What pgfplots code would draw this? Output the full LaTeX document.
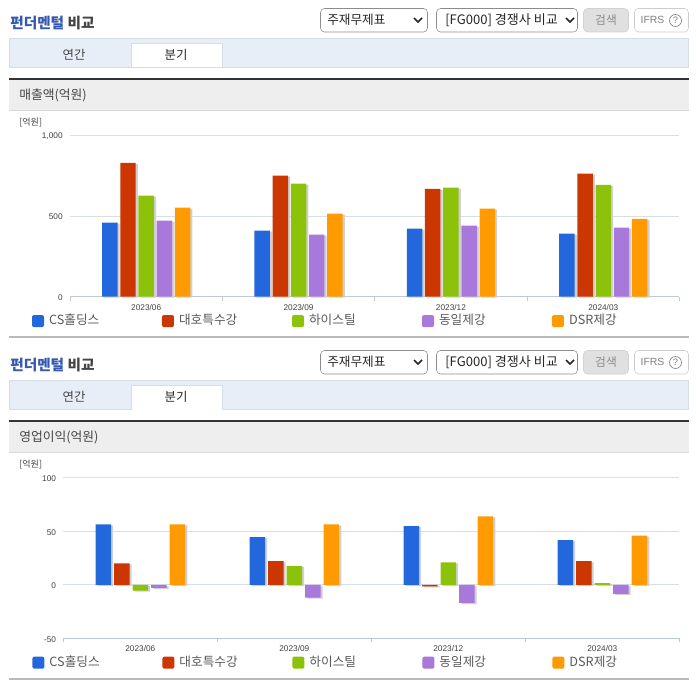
\documentclass[border=0pt]{standalone}
\usepackage{fontspec}
\usepackage{pgfplots}
\usepackage{pgfplotstable}
\pgfplotsset{compat=1.18}
\setmainfont{Noto Sans CJK KR}
\newfontfamily\lat{Liberation Sans}
\definecolor{cblue}{HTML}{2268DC}
\definecolor{cred}{HTML}{CC3600}
\definecolor{cgreen}{HTML}{8CC30A}
\definecolor{cpurple}{HTML}{A878DA}
\definecolor{corange}{HTML}{FF9A00}
\definecolor{tabbg}{HTML}{E8EEF8}
\definecolor{tabline}{HTML}{D5DDE8}
\definecolor{band}{HTML}{EEEEEE}
\definecolor{gridc}{HTML}{D8DEE6}
\definecolor{axisc}{HTML}{BCCADC}
\definecolor{txt}{HTML}{444444}
\definecolor{shad}{HTML}{D0D0D4}
\definecolor{headblue}{HTML}{3558B0}
\newcommand{\fsz}[1]{\fontsize{#1}{#1}\selectfont}
\pgfplotstableread{
x a b c d e
0 460 830 627 472 553
1 410 752 702 385 516
2 422 669 677 441 547
3 391 764 694 429 483
}\tsales
\pgfplotstableread{
x a b c d e
0 56.4 20 -5.5 -3 56.4
1 44.5 22 17.4 -12 56.4
2 54.8 -1.5 21 -17 64
3 41.7 22 1.5 -8.5 46
}\tprofit
% #1 y offset, #2 title
\newcommand{\panel}[2]{%
 \begin{scope}[shift={(0,#1)}]
 \node[anchor=west,inner sep=0pt,font=\fsz{11pt}\bfseries] at (10,23) {\textcolor{headblue}{펀더멘털} \textcolor{txt}{비교}};
 \draw[rounded corners=3pt,draw=black!45,fill=white] (320.5,8.5) rectangle (427.5,32);
 \node[anchor=west,inner sep=0pt,font=\fsz{9.5pt},text=black!85] at (327,20) {주재무제표};
 \draw[line width=1.3pt,black!85] (414,18) -- (418,22) -- (422,18);
 \draw[rounded corners=3pt,draw=black!45,fill=white] (436.5,8.5) rectangle (577.5,32);
 \node[anchor=west,inner sep=0pt,font=\fsz{9.8pt},text=black!85] at (445,20) {[FG000] 경쟁사 비교};
 \draw[line width=1.3pt,black!85] (566,18) -- (570,22) -- (574,18);
 \draw[rounded corners=3pt,draw=black!18,fill=black!12] (583.5,8.5) rectangle (628.5,32);
 \node[inner sep=0pt,font=\fsz{8.8pt},text=black!45] at (606,20) {검색};
 \draw[rounded corners=3pt,draw=black!20,fill=white] (634.5,8.5) rectangle (688.5,32);
 \node[inner sep=0pt,font=\lat\fsz{7.8pt},text=black!50] at (652.5,20) {IFRS};
 \draw[black!50,line width=0.5pt] (675.5,20.5) circle (6);
 \node[inner sep=0pt,font=\lat\fsz{7pt},text=black!50] at (675.5,20.5) {?};
 \fill[tabbg,draw=tabline] (9.5,38.5) rectangle (688.5,67.5);
 \fill[white,draw=tabline] (131.5,67.5) -- (131.5,43.5) -- (222.5,43.5) -- (222.5,67.5);
 \node[inner sep=0pt,font=\fsz{9.3pt},text=txt] at (74,54.5) {연간};
 \node[inner sep=0pt,font=\fsz{9.3pt},text=black!85] at (176,54.5) {분기};
 \fill[band] (9,80) rectangle (689,110);
 \draw[black!15] (9,110.5) -- (689,110.5);
 \fill[black!80] (9,78.2) rectangle (689,80.2);
 \node[anchor=west,inner sep=0pt,font=\fsz{9.6pt},text=txt] at (19,95.5) {#2};
 \node[anchor=west,inner sep=0pt,font=\fsz{6.8pt},text=txt] at (19,122.5) {[억원]};
 \fill[black!27] (9,335.7) rectangle (689,337.7);
 \end{scope}}
\pgfplotsset{shadowbar/.style={ybar,forget plot,draw=none,fill=shad,bar width=11.6pt,xshift=1.6pt,yshift=-0.8pt},
 mainbar/.style={ybar,draw=none,bar width=11.6pt}}
\newcommand{\bars}[2]{%
 \addplot[shadowbar,bar shift={-2*#2}] table[x=x,y=a]{#1};
 \addplot[shadowbar,bar shift={-1*#2}] table[x=x,y=b]{#1};
 \addplot[shadowbar,bar shift=0pt] table[x=x,y=c]{#1};
 \addplot[shadowbar,bar shift={1*#2}] table[x=x,y=d]{#1};
 \addplot[shadowbar,bar shift={2*#2}] table[x=x,y=e]{#1};
 \addplot[mainbar,fill=cblue,bar shift={-2*#2}] table[x=x,y=a]{#1};
 \addplot[mainbar,fill=cred,bar shift={-1*#2}] table[x=x,y=b]{#1};
 \addplot[mainbar,fill=cgreen,bar shift=0pt] table[x=x,y=c]{#1};
 \addplot[mainbar,fill=cpurple,bar shift={1*#2}] table[x=x,y=d]{#1};
 \addplot[mainbar,fill=corange,bar shift={2*#2}] table[x=x,y=e]{#1};
 \legend{CS홀딩스,대호특수강,하이스틸,동일제강,DSR제강}}
\pgfplotsset{
 chart/.style={
  scale only axis,
  anchor=south west,
  clip=false,
  xmin=-0.5,xmax=3.5,
  axis x line*=bottom,axis y line*=left,
  y axis line style={draw=none},
  x axis line style={draw=axisc,line width=0.6pt,-},
  xtick={0,1,2,3},
  xticklabels={2023/06,2023/09,2023/12,2024/03},
  major x tick style={draw=none},
  minor xtick={-0.5,0.5,1.5,2.5,3.5},
  minor x tick style={draw=axisc,line width=0.6pt},
  tick align=outside,
  minor tick length=3pt,
  major tick length=0pt,
  ytick style={draw=none},
  ymajorgrids,
  grid style={draw=gridc,line width=0.6pt},
  /pgf/number format/assume math mode=true,
  /pgf/number format/1000 sep={,},
  tick label style={font=\lat\fsz{6.2pt},text=black!75},
  xticklabel style={yshift=-2.2pt},
  yticklabel style={xshift=-2pt,yshift=-0.7pt},
  legend columns=5,
  legend cell align=left,
  legend image code/.code={\fill[##1,rounded corners=1.5pt] (0pt,-4.5pt) rectangle (9pt,4.5pt);},
  legend style={draw=none,fill=none,inner sep=0pt,outer sep=0pt,anchor=west,
    font=\fsz{9.5pt},text=black!65,
    nodes={inner sep=0pt,anchor=west,text width=84.7pt,text height=7pt,text depth=2pt},
    /tikz/every odd column/.append style={column sep=3.8pt}},
 }}
\begin{document}
\begin{tikzpicture}[x=0.75pt,y=-0.75pt]
\useasboundingbox (0,0) rectangle (696,684);
\panel{0}{매출액(억원)}
\panel{342}{영업이익(억원)}
\begin{axis}[chart,at={(52.5pt,-222.5pt)},width=457.1pt,height=120.8pt,
  ymin=0,ymax=1000,ytick={0,500,1000},
  legend style={at={(-28.5pt,-18.3pt)}}]
 \bars{\tsales}{13.65pt}
\end{axis}
\begin{axis}[chart,at={(47.5pt,-478.7pt)},width=462pt,height=120.4pt,
  ymin=-50,ymax=100,ytick={-50,0,50,100},
  legend style={at={(-23.2pt,-18.3pt)}}]
 \bars{\tprofit}{13.9pt}
\end{axis}
\end{tikzpicture}
\end{document}
